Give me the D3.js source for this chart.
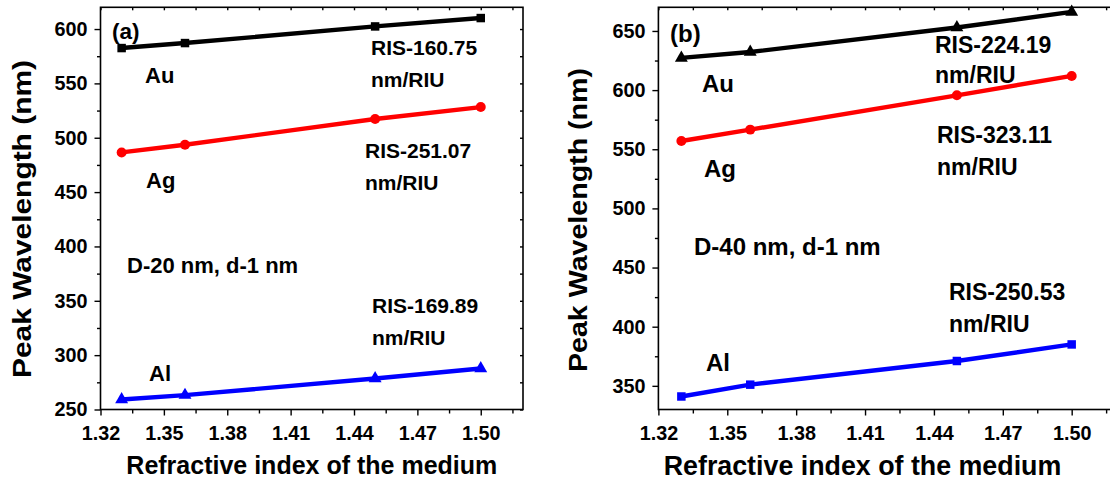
<!DOCTYPE html>
<html>
<head>
<meta charset="utf-8">
<script src="https://cdn.jsdelivr.net/npm/d3@7"></script>
<style>
  body { margin: 0; background: #fff; }
  svg { display: block; }
</style>
</head>
<body>
<div id="container"></div>
<script>
/* CONSTANTS AND GLOBALS */
const width = 1110,
  height = 482
const fontFamily = '"Liberation Sans", Arial, sans-serif'

/* DATA */
const refIndex = [1.33, 1.36, 1.45, 1.50]

// panel (a): D-20 nm, d-1 nm
const auA = [582.5, 587.1, 602.4, 610.1]
const agA = [486.5, 493.6, 517.2, 528.2]
const alA = [259.2, 263.2, 278.5, 287.7]

// panel (b): D-40 nm, d-1 nm
const auB = [627.2, 632.2, 652.9, 666.1]
const agB = [557.0, 566.6, 595.6, 612.0]
const alB = [341.0, 351.0, 371.0, 385.0]

const xTicks = [1.32, 1.35, 1.38, 1.41, 1.44, 1.47, 1.50]
const yTicksA = [250, 300, 350, 400, 450, 500, 550, 600]
const yTicksB = [350, 400, 450, 500, 550, 600, 650]

const metals = ["Au", "Ag", "Al"]
const risA = ["RIS-160.75", "RIS-251.07", "RIS-169.89"]
const risB = ["RIS-224.19", "RIS-323.11", "RIS-250.53"]
const unitLabel = "nm/RIU"
const xTitle = "Refractive index of the medium"
const yTitle = "Peak Wavelength (nm)"

/* PANEL SETUP (layout only) */
const panels = [
  {
    tag: "(a)", note: "D-20 nm, d-1 nm",
    box: { left: 100.5, right: 523, top: 7.3, bottom: 409.5 },
    yDomain: [250, 620], yTicks: yTicksA,
    series: [
      { values: auA, color: "#000000", symbol: d3.symbolSquare, size: 72 },
      { values: agA, color: "#ff0000", symbol: d3.symbolCircle, size: 78 },
      { values: alA, color: "#0000ff", symbol: d3.symbolTriangle, size: 72 }
    ],
    ris: risA, fs: 21,
    tagPos: [112, 39, 22.5],
    notePos: [127, 273, 22],
    metalPos: [[145, 83], [146, 188], [149, 381]],
    risPos: [[371, 55, 87], [365, 158, 190], [372, 313, 345]],
    xTitlePos: [311.8, 474, 25],
    yTitlePos: [30.5, 219, 25.5, 318]
  },
  {
    tag: "(b)", note: "D-40 nm, d-1 nm",
    box: { left: 658.4, right: 1117.6, top: 7.3, bottom: 409.5 },
    yDomain: [330, 670], yTicks: yTicksB,
    series: [
      { values: auB, color: "#000000", symbol: d3.symbolTriangle, size: 72 },
      { values: agB, color: "#ff0000", symbol: d3.symbolCircle, size: 78 },
      { values: alB, color: "#0000ff", symbol: d3.symbolSquare, size: 72 }
    ],
    ris: risB, fs: 23,
    tagPos: [670, 42, 24],
    notePos: [694, 255, 24],
    metalPos: [[702, 92], [704, 177], [706, 371]],
    risPos: [[935, 53, 83], [937, 143, 175], [949, 300, 332]],
    xTitlePos: [862.5, 475, 26.8],
    yTitlePos: [587, 220, 25.5, 304]
  }
]

// CREATE SVG ELEMENT
const svg = d3.select("#container")
  .append("svg")
  .attr("width", width)
  .attr("height", height)
  .style("font-family", fontFamily)
  .style("font-weight", "bold")

panels.forEach(p => {
  const b = p.box

  // + SCALES
  const xScale = d3.scaleLinear()
    .domain([1.32, 1.52])
    .range([b.left, b.right])

  const yScale = d3.scaleLinear()
    .domain(p.yDomain)
    .range([b.bottom, b.top])

  const xMinor = d3.range(1.335, 1.52, 0.03)
  const yMinor = d3.range(Math.ceil(p.yDomain[0] / 25) * 25, p.yDomain[1], 25)
    .filter(v => v % 50 !== 0)

  const g = svg.append("g")

  // minor ticks, outer side
  g.append("g")
    .attr("transform", `translate(0, ${b.bottom})`)
    .call(d3.axisBottom(xScale).tickValues(xMinor).tickSize(4).tickFormat(""))
  g.append("g")
    .attr("transform", `translate(${b.left}, 0)`)
    .call(d3.axisLeft(yScale).tickValues(yMinor).tickSize(3.5).tickFormat(""))

  // small inward ticks on top and right
  g.append("g")
    .attr("transform", `translate(0, ${b.top})`)
    .call(d3.axisTop(xScale).tickValues(xTicks.concat(xMinor)).tickSize(-3).tickFormat(""))
  g.append("g")
    .attr("transform", `translate(${b.right}, 0)`)
    .call(d3.axisRight(yScale).tickValues(p.yTicks.concat(yMinor)).tickSize(-3).tickFormat(""))

  // BUILD AND CALL AXES
  const xAxisGroup = g.append("g")
    .attr("transform", `translate(0, ${b.bottom})`)
    .call(d3.axisBottom(xScale).tickValues(xTicks).tickSize(6).tickPadding(10).tickFormat(d3.format(".2f")))

  const yAxisGroup = g.append("g")
    .attr("transform", `translate(${b.left}, 0)`)
    .call(d3.axisLeft(yScale).tickValues(p.yTicks).tickSize(6).tickPadding(7))

  g.selectAll(".domain").remove()
  g.selectAll(".tick line").attr("stroke", "#000").attr("stroke-width", 1.4)
  ;[xAxisGroup, yAxisGroup].forEach(ax => ax
    .attr("font-size", 19.8)
    .attr("font-family", fontFamily)
    .attr("font-weight", "bold")
    .selectAll("text").attr("fill", "#000"))

  // frame
  g.append("rect")
    .attr("x", b.left)
    .attr("y", b.top)
    .attr("width", b.right - b.left)
    .attr("height", b.bottom - b.top)
    .attr("fill", "none")
    .attr("stroke", "#000")
    .attr("stroke-width", 1.6)

  // LINE GENERATOR FUNCTION
  const lineGen = d3.line()
    .x((d, i) => xScale(refIndex[i]))
    .y(d => yScale(d))

  p.series.forEach(s => {
    g.append("path")
      .datum(s.values)
      .attr("fill", "none")
      .attr("stroke", s.color)
      .attr("stroke-width", 4.4)
      .attr("d", lineGen)

    g.selectAll(null)
      .data(s.values)
      .join("path")
      .attr("transform", (d, i) => `translate(${xScale(refIndex[i])}, ${yScale(d)})`)
      .attr("d", d3.symbol().type(s.symbol).size(s.size))
      .attr("fill", s.color)
  })

  // annotations
  const label = (x, y, size, txt) => g.append("text")
    .attr("x", x)
    .attr("y", y)
    .attr("font-size", size)
    .attr("fill", "#000")
    .text(txt)

  label(p.tagPos[0], p.tagPos[1], p.tagPos[2], p.tag)
  label(p.notePos[0], p.notePos[1], p.notePos[2], p.note)
  metals.forEach((m, i) => label(p.metalPos[i][0], p.metalPos[i][1], p.fs + 1, m))
  p.ris.forEach((r, i) => {
    label(p.risPos[i][0], p.risPos[i][1], p.fs, r)
    label(p.risPos[i][0], p.risPos[i][2], p.fs, unitLabel)
  })

  //Titles
  g.append("text")
    .attr("x", p.xTitlePos[0])
    .attr("y", p.xTitlePos[1])
    .attr("font-size", p.xTitlePos[2])
    .style("text-anchor", "middle")
    .text(xTitle)

  g.append("text")
    .attr("transform", `translate(${p.yTitlePos[0]}, ${p.yTitlePos[1]}) rotate(-90)`)
    .attr("font-size", p.yTitlePos[2])
    .attr("textLength", p.yTitlePos[3])
    .attr("lengthAdjust", "spacingAndGlyphs")
    .style("text-anchor", "middle")
    .text(yTitle)
})
</script>
</body>
</html>
